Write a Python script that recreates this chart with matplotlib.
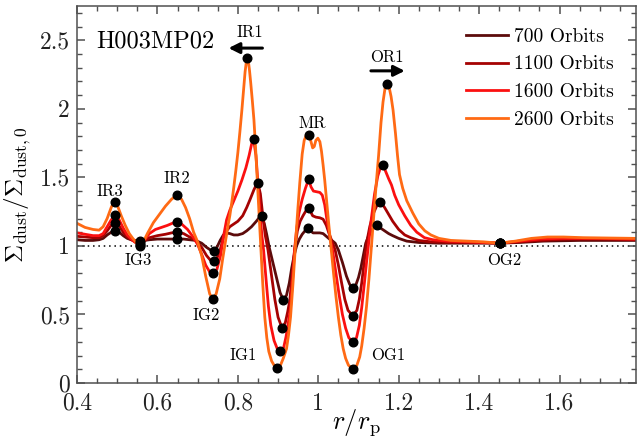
import numpy as np
import matplotlib
matplotlib.use('Agg')
import matplotlib.pyplot as plt
from matplotlib.ticker import MultipleLocator, FuncFormatter

plt.rcParams['font.family'] = ['cmr10', 'DejaVu Serif']
plt.rcParams['mathtext.fontset'] = 'cm'
plt.rcParams['axes.formatter.use_mathtext'] = True

# dust surface density profiles (normalised), one per snapshot
r_700 = [0.400, 0.420, 0.440, 0.455, 0.465, 0.475, 0.485, 0.495, 0.505, 0.515,
         0.525, 0.535, 0.545, 0.557, 0.567, 0.580, 0.600, 0.620, 0.635, 0.648,
         0.665, 0.680, 0.695, 0.710, 0.722, 0.732, 0.740, 0.748, 0.756, 0.764,
         0.772, 0.780, 0.790, 0.800, 0.812, 0.822, 0.834, 0.846, 0.854, 0.860,
         0.866, 0.872, 0.878, 0.887, 0.896, 0.905, 0.913, 0.921, 0.928, 0.934,
         0.940, 0.946, 0.953, 0.960, 0.967, 0.975, 0.981, 0.987, 0.995, 1.004,
         1.012, 1.020, 1.028, 1.036, 1.042, 1.050, 1.060, 1.070, 1.078, 1.086,
         1.094, 1.100, 1.106, 1.112, 1.118, 1.126, 1.134, 1.140, 1.146, 1.155,
         1.165, 1.175, 1.185, 1.200, 1.220, 1.250, 1.300, 1.360, 1.420, 1.451,
         1.500, 1.560, 1.650, 1.790]
s_700 = [1.045, 1.040, 1.040, 1.045, 1.055, 1.080, 1.100, 1.110, 1.100, 1.075,
         1.055, 1.045, 1.040, 1.035, 1.040, 1.045, 1.050, 1.050, 1.050, 1.050,
         1.050, 1.045, 1.040, 1.020, 0.990, 0.970, 0.966, 0.990, 1.040, 1.080,
         1.095, 1.090, 1.080, 1.080, 1.090, 1.110, 1.140, 1.180, 1.210, 1.220,
         1.160, 1.080, 0.990, 0.880, 0.770, 0.660, 0.606, 0.640, 0.730, 0.840,
         0.930, 1.000, 1.050, 1.085, 1.110, 1.130, 1.110, 1.095, 1.095, 1.095,
         1.090, 1.070, 1.050, 1.035, 1.020, 0.970, 0.880, 0.780, 0.720, 0.690,
         0.720, 0.770, 0.840, 0.930, 1.020, 1.080, 1.120, 1.140, 1.155, 1.130,
         1.110, 1.090, 1.075, 1.055, 1.035, 1.025, 1.020, 1.020, 1.020, 1.020,
         1.025, 1.035, 1.040, 1.040]

r_1100 = [0.400, 0.420, 0.440, 0.455, 0.465, 0.475, 0.485, 0.495, 0.505, 0.515,
          0.525, 0.535, 0.545, 0.557, 0.567, 0.580, 0.600, 0.620, 0.635, 0.648,
          0.665, 0.680, 0.695, 0.710, 0.722, 0.732, 0.740, 0.748, 0.756, 0.764,
          0.772, 0.780, 0.790, 0.800, 0.812, 0.822, 0.830, 0.840, 0.846, 0.850,
          0.856, 0.862, 0.868, 0.875, 0.883, 0.892, 0.900, 0.910, 0.918, 0.924,
          0.929, 0.935, 0.941, 0.948, 0.955, 0.962, 0.970, 0.976, 0.981, 0.986,
          0.994, 1.004, 1.012, 1.020, 1.028, 1.036, 1.042, 1.050, 1.058, 1.066,
          1.074, 1.086, 1.096, 1.102, 1.108, 1.114, 1.120, 1.128, 1.136, 1.145,
          1.154, 1.165, 1.175, 1.185, 1.200, 1.215, 1.230, 1.250, 1.280, 1.330,
          1.400, 1.451, 1.500, 1.550, 1.620, 1.700, 1.790]
s_1100 = [1.070, 1.065, 1.060, 1.060, 1.075, 1.110, 1.150, 1.170, 1.145, 1.100,
          1.065, 1.045, 1.030, 1.020, 1.035, 1.060, 1.075, 1.085, 1.095, 1.100,
          1.090, 1.065, 1.040, 0.990, 0.930, 0.895, 0.890, 0.910, 0.970, 1.060,
          1.110, 1.140, 1.160, 1.180, 1.220, 1.280, 1.336, 1.410, 1.445, 1.458,
          1.380, 1.220, 1.080, 0.970, 0.800, 0.610, 0.480, 0.400, 0.440, 0.520,
          0.600, 0.780, 0.970, 1.110, 1.180, 1.220, 1.260, 1.280, 1.250, 1.220,
          1.210, 1.205, 1.195, 1.150, 1.080, 1.020, 0.970, 0.860, 0.730, 0.610,
          0.530, 0.490, 0.530, 0.610, 0.730, 0.880, 1.020, 1.140, 1.230, 1.290,
          1.323, 1.280, 1.230, 1.180, 1.120, 1.080, 1.060, 1.040, 1.030, 1.025,
          1.025, 1.020, 1.030, 1.040, 1.050, 1.050, 1.045]

r_1600 = [0.400, 0.420, 0.440, 0.455, 0.465, 0.475, 0.485, 0.495, 0.505, 0.515,
          0.525, 0.535, 0.545, 0.557, 0.567, 0.580, 0.595, 0.610, 0.625, 0.637,
          0.648, 0.660, 0.675, 0.690, 0.700, 0.710, 0.720, 0.730, 0.739, 0.748,
          0.757, 0.765, 0.772, 0.780, 0.790, 0.800, 0.810, 0.820, 0.828, 0.834,
          0.839, 0.845, 0.850, 0.855, 0.860, 0.864, 0.870, 0.876, 0.882, 0.890,
          0.898, 0.906, 0.914, 0.920, 0.926, 0.931, 0.936, 0.941, 0.946, 0.952,
          0.960, 0.968, 0.976, 0.982, 0.988, 0.996, 1.004, 1.010, 1.016, 1.022,
          1.030, 1.036, 1.044, 1.052, 1.060, 1.068, 1.076, 1.086, 1.095, 1.102,
          1.108, 1.114, 1.120, 1.126, 1.132, 1.140, 1.148, 1.155, 1.161, 1.168,
          1.175, 1.182, 1.190, 1.200, 1.215, 1.230, 1.245, 1.264, 1.285, 1.320,
          1.370, 1.410, 1.451, 1.500, 1.550, 1.600, 1.700, 1.790]
s_1600 = [1.095, 1.085, 1.075, 1.075, 1.090, 1.140, 1.190, 1.225, 1.190, 1.130,
          1.080, 1.050, 1.025, 1.010, 1.040, 1.090, 1.120, 1.135, 1.150, 1.165,
          1.177, 1.160, 1.120, 1.060, 1.010, 0.940, 0.860, 0.810, 0.800, 0.830,
          0.930, 1.080, 1.190, 1.260, 1.330, 1.400, 1.480, 1.570, 1.660, 1.740,
          1.780, 1.660, 1.460, 1.240, 1.070, 0.970, 0.760, 0.560, 0.420, 0.310,
          0.250, 0.230, 0.260, 0.340, 0.450, 0.550, 0.750, 0.970, 1.120, 1.240,
          1.340, 1.420, 1.485, 1.430, 1.400, 1.395, 1.390, 1.370, 1.300, 1.180,
          1.050, 0.960, 0.800, 0.640, 0.500, 0.400, 0.330, 0.300, 0.330, 0.420,
          0.550, 0.710, 0.880, 1.040, 1.200, 1.380, 1.510, 1.575, 1.590, 1.540,
          1.490, 1.445, 1.370, 1.300, 1.220, 1.150, 1.100, 1.060, 1.045, 1.035,
          1.030, 1.025, 1.020, 1.035, 1.050, 1.055, 1.055, 1.050]

r_2600 = [0.400, 0.420, 0.440, 0.455, 0.465, 0.475, 0.485, 0.490, 0.495, 0.500,
          0.510, 0.520, 0.530, 0.540, 0.549, 0.557, 0.565, 0.575, 0.590, 0.605,
          0.620, 0.635, 0.648, 0.660, 0.670, 0.680, 0.690, 0.700, 0.710, 0.720,
          0.730, 0.738, 0.746, 0.755, 0.762, 0.768, 0.775, 0.780, 0.785, 0.790,
          0.795, 0.800, 0.805, 0.810, 0.814, 0.818, 0.821, 0.823, 0.826, 0.829,
          0.832, 0.836, 0.840, 0.844, 0.848, 0.853, 0.857, 0.862, 0.867, 0.872,
          0.877, 0.884, 0.891, 0.898, 0.906, 0.913, 0.921, 0.926, 0.931, 0.937,
          0.943, 0.948, 0.954, 0.960, 0.965, 0.970, 0.976, 0.981, 0.986, 0.990,
          0.994, 0.999, 1.004, 1.008, 1.012, 1.016, 1.020, 1.026, 1.032, 1.038,
          1.044, 1.050, 1.056, 1.062, 1.068, 1.075, 1.086, 1.096, 1.103, 1.108,
          1.114, 1.120, 1.126, 1.132, 1.138, 1.144, 1.150, 1.156, 1.161, 1.166,
          1.171, 1.176, 1.181, 1.186, 1.192, 1.197, 1.202, 1.210, 1.220, 1.235,
          1.250, 1.265, 1.280, 1.300, 1.330, 1.370, 1.410, 1.451, 1.490, 1.530,
          1.570, 1.610, 1.660, 1.720, 1.790]
s_2600 = [1.165, 1.135, 1.120, 1.115, 1.140, 1.200, 1.280, 1.310, 1.320, 1.300,
          1.220, 1.150, 1.090, 1.050, 1.020, 1.000, 1.030, 1.090, 1.170, 1.230,
          1.290, 1.340, 1.370, 1.340, 1.280, 1.200, 1.100, 1.030, 0.930, 0.780,
          0.650, 0.612, 0.650, 0.760, 0.900, 1.010, 1.140, 1.220, 1.320, 1.430,
          1.550, 1.680, 1.830, 1.990, 2.130, 2.270, 2.340, 2.370, 2.350, 2.280,
          2.190, 2.060, 1.920, 1.720, 1.500, 1.210, 1.000, 0.720, 0.480, 0.330,
          0.230, 0.160, 0.125, 0.112, 0.130, 0.180, 0.250, 0.350, 0.480, 0.720,
          0.990, 1.220, 1.460, 1.670, 1.770, 1.805, 1.810, 1.770, 1.715, 1.725,
          1.770, 1.786, 1.760, 1.690, 1.590, 1.480, 1.350, 1.160, 0.980, 0.800,
          0.630, 0.480, 0.350, 0.250, 0.180, 0.130, 0.100, 0.130, 0.190, 0.270,
          0.400, 0.560, 0.760, 0.990, 1.220, 1.450, 1.660, 1.900, 2.050, 2.150,
          2.180, 2.160, 2.090, 1.990, 1.820, 1.660, 1.520, 1.420, 1.330, 1.240,
          1.160, 1.110, 1.080, 1.055, 1.040, 1.035, 1.030, 1.020, 1.035, 1.055,
          1.065, 1.065, 1.060, 1.058, 1.055]

# radii of the marked rings and gaps on each profile
dots_700 = [0.495, 0.557, 0.648, 0.740, 0.860, 0.913, 0.975, 1.086, 1.146, 1.451]
dots_1100 = [0.495, 0.557, 0.648, 0.740, 0.850, 0.910, 0.976, 1.086, 1.154, 1.451]
dots_1600 = [0.495, 0.557, 0.648, 0.739, 0.839, 0.906, 0.976, 1.086, 1.161, 1.451]
dots_2600 = [0.495, 0.557, 0.648, 0.738, 0.823, 0.898, 0.976, 1.086, 1.171, 1.451]

labels = ['700 Orbits', '1100 Orbits', '1600 Orbits', '2600 Orbits']
colors = ['#5c0b0b', '#a50202', '#fb1010', '#ff6a14']

features = ['IR3', 'IR2', 'IR1', 'MR', 'OR1', 'IG3', 'IG2', 'IG1', 'OG1', 'OG2']
feature_x = [0.482, 0.648, 0.830, 0.985, 1.171, 0.552, 0.722, 0.813, 1.173, 1.463]
feature_y = [1.396, 1.494, 2.555, 1.895, 2.377, 0.898, 0.496, 0.204, 0.204, 0.898]

fig = plt.figure(figsize=(6.4, 4.45), dpi=100)
ax = fig.add_axes([0.1203, 0.1393, 0.8734, 0.8472])

profiles = [(r_700, s_700, dots_700), (r_1100, s_1100, dots_1100),
            (r_1600, s_1600, dots_1600), (r_2600, s_2600, dots_2600)]

for (r, s, d), lab, c in zip(profiles, labels, colors):
    ax.plot(r, s, color=c, lw=2.0, label=lab, zorder=2)

for r, s, d in profiles:
    r = np.asarray(r)
    s = np.asarray(s)
    idx = [np.argmin(np.abs(r - v)) for v in d]
    ax.plot(r[idx], s[idx], 'o', color='k', ms=6.2, zorder=4)

ax.axhline(1.0, color='k', ls=(0, (1, 2.5)), lw=1.1, zorder=1)

for name, x, y in zip(features, feature_x, feature_y):
    ax.text(x, y, name, ha='center', va='center', fontsize=12)

# migration direction of the innermost and outermost rings
ax.annotate('', xy=(0.770, 2.443), xytext=(0.868, 2.443),
            arrowprops=dict(arrowstyle='-|>', color='k', lw=2.2, mutation_scale=16))
ax.annotate('', xy=(1.222, 2.277), xytext=(1.124, 2.277),
            arrowprops=dict(arrowstyle='-|>', color='k', lw=2.2, mutation_scale=16))

ax.text(0.449, 2.445, 'H003MP02', ha='left', va='baseline', fontsize=17.5)

ax.set_xlim(0.4, 1.79)
ax.set_ylim(0, 2.75)
ax.xaxis.set_major_locator(MultipleLocator(0.2))
ax.xaxis.set_minor_locator(MultipleLocator(0.05))
ax.yaxis.set_major_locator(MultipleLocator(0.5))
ax.yaxis.set_minor_locator(MultipleLocator(0.1))
fmt = FuncFormatter(lambda v, p: '%g' % round(v, 2))
ax.xaxis.set_major_formatter(fmt)
ax.yaxis.set_major_formatter(fmt)

for sp in ax.spines.values():
    sp.set_color('#505050')
    sp.set_linewidth(1.1)
ax.tick_params(which='both', direction='in', top=True, right=True,
               color='#505050', labelsize=17, labelcolor='#222222')
ax.tick_params(which='major', length=6, width=1.1)
ax.tick_params(axis='x', which='major', pad=7)
ax.tick_params(axis='y', which='major', pad=5)
ax.tick_params(which='minor', length=3.5, width=1.0)

ax.set_xlabel(r'$r/r_{\rm p}$', fontsize=19, labelpad=-6)
ax.set_ylabel(r'$\Sigma_{\rm dust}/\Sigma_{\rm dust,0}$', fontsize=18, labelpad=5)

ax.legend(loc='upper right', frameon=False, fontsize=14, handlelength=2.2,
          handletextpad=0.3, labelspacing=0.5, borderaxespad=0.3,
          bbox_to_anchor=(0.985, 0.978))

fig.savefig('out.png', dpi=100)
